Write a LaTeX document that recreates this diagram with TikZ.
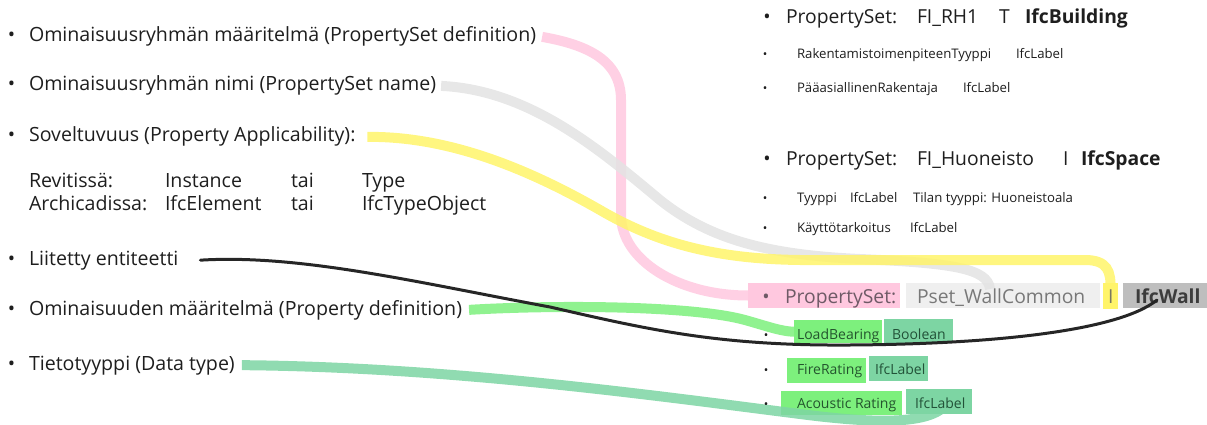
\documentclass[tikz,border=0pt]{standalone}
\usepackage{fontspec}
\setmainfont{Open Sans}
\definecolor{ink}{HTML}{1E1E1E}
\definecolor{hpink}{HTML}{FFC8DF}
\definecolor{hgray}{HTML}{EFEFEF}
\definecolor{hyel}{HTML}{FFF46A}
\definecolor{hdark}{HTML}{BEBEBE}
\definecolor{hgreen}{HTML}{7DF07D}
\definecolor{hteal}{HTML}{7DD5A3}
\definecolor{pinktext}{HTML}{6E5A66}
\definecolor{graytext}{HTML}{787878}
\definecolor{yeltext}{HTML}{7A7860}
\definecolor{walltext}{HTML}{3C3C3C}
\definecolor{greentext}{HTML}{24552E}
\definecolor{tealtext}{HTML}{225238}
\definecolor{blackline}{HTML}{262626}
\begin{document}
\begin{tikzpicture}[x=1pt,y=-1pt,
  lt/.style={anchor=base west,inner sep=0pt,outer sep=0pt,text=ink,font=\fontsize{19.6pt}{23pt}\selectfont},
  rt/.style={anchor=base west,inner sep=0pt,outer sep=0pt,text=ink,font=\fontsize{19.3pt}{23pt}\selectfont},
  rtb/.style={rt,font=\fontsize{19.3pt}{23pt}\selectfont\bfseries},
  st/.style={anchor=base west,inner sep=0pt,outer sep=0pt,text=ink,font=\fontsize{13.2pt}{15pt}\selectfont},
  gt/.style={anchor=base west,inner sep=0pt,outer sep=0pt,font=\fontsize{14pt}{16pt}\selectfont},
  bul/.style={anchor=base,inner sep=0pt,text=ink,font=\fontsize{19.5pt}{23pt}\selectfont},
  bulsm/.style={anchor=base,inner sep=0pt,text=ink,font=\fontsize{12pt}{14pt}\selectfont},
  hbox/.style={anchor=north west,inner sep=0pt,outer sep=0pt,minimum height=25pt},
  hl/.style={line width=10pt,opacity=0.85},
]
\useasboundingbox (0,0) rectangle (1207,425);

% ---------- highlight boxes ----------
\node[hbox,fill=hpink,minimum width=152pt] (pbox) at (748,283) {};
\node[hbox,fill=hgray,minimum width=194pt] (gbox) at (906,283) {};
\node[hbox,fill=hyel,minimum width=15pt,minimum height=26pt] (ybox) at (1103,283) {};
\node[hbox,fill=hdark,minimum width=84pt] (wbox) at (1123,283) {};
\node[hbox,fill=hgreen,minimum width=88pt,minimum height=23pt] (lbA) at (794,320) {};
\node[hbox,fill=hteal,minimum width=69pt,minimum height=24pt] (lbB) at (884,319) {};
\node[hbox,fill=hgreen,minimum width=79pt,minimum height=25pt] (frA) at (787,358) {};
\node[hbox,fill=hteal,minimum width=59pt,minimum height=25pt] (frB) at (869,356) {};
\node[hbox,fill=hgreen,minimum width=121pt,minimum height=24pt] (arA) at (781,391) {};
\node[hbox,fill=hteal,minimum width=66pt,minimum height=25pt] (arB) at (906,389) {};

% ---------- left texts ----------
\node[bul] (b1) at (11.5,42) {•};
\node[lt] (l1) at (29,42) {Ominaisuusryhmän määritelmä (PropertySet definition)};
\node[bul] (b2) at (11.5,91) {•};
\node[lt] (l2) at (29,91) {Ominaisuusryhmän nimi (PropertySet name)};
\node[bul] (b3) at (11.5,142) {•};
\node[lt] (l3) at (29,142) {Soveltuvuus (Property Applicability):};
\node[lt] (r1a) at (29,187) {Revitissä:};
\node[lt] (r1b) at (165,187) {Instance};
\node[lt] (r1c) at (291,187) {tai};
\node[lt] (r1d) at (362,187) {Type};
\node[lt] (r2a) at (29,210) {Archicadissa:};
\node[lt] (r2b) at (165,210) {IfcElement};
\node[lt] (r2c) at (291,210) {tai};
\node[lt] (r2d) at (362,210) {IfcTypeObject};
\node[bul] (b4) at (11.5,265) {•};
\node[lt] (l4) at (29,265) {Liitetty entiteetti};
\node[bul] (b5) at (11.5,315) {•};
\node[lt] (l5) at (29,315) {Ominaisuuden määritelmä (Property definition)};
\node[bul] (b6) at (11.5,370) {•};
\node[lt] (l6) at (29,370) {Tietotyyppi (Data type)};

% ---------- highlighter connectors ----------
\draw[hl,draw=hpink] ([xshift=6pt]l1.east) .. controls +(45,8) and +(0,-40) .. (621,100)
  -- (621,215) .. controls +(0,45) and +(-70,0) .. (pbox.west);
\draw[hl,draw=hgray!95!black] ([xshift=5pt]l2.east) .. controls (530,90) and (600,150) .. (660,200)
  .. controls (710,240) and (770,255) .. (860,259)
  .. controls (950,263) and (988,268) .. ([xshift=-13pt,yshift=-6pt]gbox.north);
\draw[hl,draw=hyel] ([xshift=12pt]l3.east) .. controls (450,136) and (530,170) .. (600,210)
  .. controls (660,245) and (720,259) .. (800,260) -- (1085,260)
  .. controls (1108,260) and (1111,272) .. ([yshift=-6pt]ybox.north);
\draw[hl,draw=hgreen] ([xshift=7pt]l5.east) .. controls (550,305) and (690,305) .. (745,320)
  .. controls (770,327) and (785,333) .. ([xshift=6pt]lbA.west);
\draw[hl,draw=hteal] ([xshift=7pt]l6.east) .. controls (450,367) and (650,395) .. (800,414)
  .. controls (870,423) and (932,426) .. ([xshift=8pt,yshift=-14pt]arB.north);

% ---------- right texts ----------
\node[bul] (rb1) at (767,24) {•};
\node[rt] (p1a) at (786,24) {PropertySet:};
\node[rt] (p1b) at (917,24) {FI\_RH1};
\node[rt] (p1c) at (999,24) {T};
\node[rtb] (p1d) at (1025,24) {IfcBuilding};
\node[bulsm] (sb1) at (765,59) {•};
\node[st] (s1a) at (797,59) {RakentamistoimenpiteenTyyppi};
\node[st] (s1b) at (1016,59) {IfcLabel};
\node[bulsm] (sb2) at (765,93) {•};
\node[st] (s2a) at (797,93) {PääasiallinenRakentaja};
\node[st] (s2b) at (963,93) {IfcLabel};

\node[bul] (rb2) at (767,165) {•};
\node[rt] (p2a) at (786,165) {PropertySet:};
\node[rt] (p2b) at (917,165) {FI\_Huoneisto};
\node[rt] (p2c) at (1063,165) {I};
\node[rtb] (p2d) at (1081,165) {IfcSpace};
\node[bulsm] (sb3) at (765,202) {•};
\node[st] (s3a) at (797,202) {Tyyppi};
\node[st] (s3b) at (850,202) {IfcLabel};
\node[st] (s3c) at (913,202) {Tilan tyyppi: Huoneistoala};
\node[bulsm] (sb4) at (765,232) {•};
\node[st] (s4a) at (797,232) {Käyttötarkoitus};
\node[st] (s4b) at (910,232) {IfcLabel};

\node[bul,text=pinktext] (rb3) at (766,303) {•};
\node[rt,text=pinktext] (p3a) at (785,303) {PropertySet:};
\node[rt,text=graytext] (p3b) at (917,303) {Pset\_WallCommon};
\node[rt,text=yeltext] (p3c) at (1108,303) {I};
\node[rtb,text=walltext] (p3d) at (1135,303) {IfcWall};

\node[bulsm] (gb1) at (766,339) {•};
\node[gt,text=greentext] (g1a) at (797,339) {LoadBearing};
\node[gt,text=tealtext] (g1b) at (892,339) {Boolean};
\node[bulsm] (gb2) at (766,374) {•};
\node[gt,text=greentext] (g2a) at (797,374) {FireRating};
\node[gt,text=tealtext] (g2b) at (875,374) {IfcLabel};
\node[bulsm] (gb3) at (766,408) {•};
\node[gt,text=greentext] (g3a) at (797,408) {Acoustic Rating};
\node[gt,text=tealtext] (g3b) at (915,408) {IfcLabel};

% ---------- black connector ----------
\draw[line width=3pt,draw=blackline,line cap=round] ([xshift=22pt]l4.east)
  .. controls (300,254) and (420,283) .. (550,307)
  .. controls (650,330) and (720,346) .. (850,345)
  .. controls (1000,344) and (1120,330) .. ([xshift=-8pt,yshift=-17pt]wbox.north);
\end{tikzpicture}
\end{document}
